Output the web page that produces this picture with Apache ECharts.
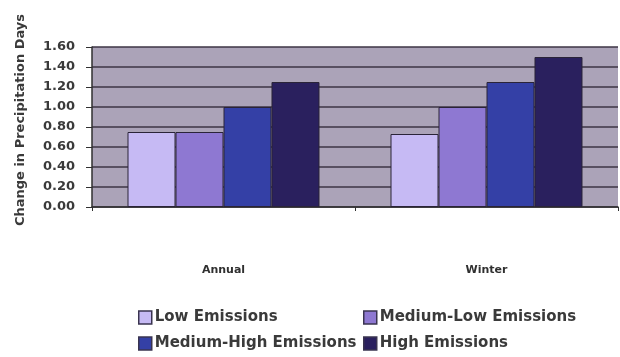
<!DOCTYPE html>
<html>
<head>
<meta charset="utf-8">
<style>
  html, body { margin: 0; padding: 0; background: #ffffff; }
  #chart { width: 620px; height: 357px; }
</style>
<script src="https://cdn.jsdelivr.net/npm/echarts@6/dist/echarts.min.js"></script>
</head>
<body>
<div id="chart"></div>
<script>
// Categories along the x axis
const categories = ['Annual', 'Winter'];

// Emission scenarios and their change in precipitation days
const seriesNames = ['Low Emissions', 'Medium-Low Emissions', 'Medium-High Emissions', 'High Emissions'];
const lowEmissions = [0.75, 0.73];
const mediumLowEmissions = [0.75, 1.00];
const mediumHighEmissions = [1.00, 1.25];
const highEmissions = [1.25, 1.50];

const seriesValues = [lowEmissions, mediumLowEmissions, mediumHighEmissions, highEmissions];
const seriesColors = ['#c6baf4', '#8e78d2', '#3440a6', '#2a205e'];

const fontFamily = 'DejaVu Sans, sans-serif';

const chart = echarts.init(document.getElementById('chart'), null, { renderer: 'canvas' });

// One legend per entry so the four entries sit in a two-column block
const legendSpots = [
  { left: 138, top: 310 },
  { left: 363, top: 310 },
  { left: 138, top: 336 },
  { left: 363, top: 336 }
];
const legends = seriesNames.map((name, i) => ({
  data: [name],
  left: legendSpots[i].left,
  top: legendSpots[i].top,
  padding: 0,
  itemWidth: 13,
  itemHeight: 13,
  itemGap: 4,
  icon: 'rect',
  textStyle: { fontFamily, fontSize: 15, fontWeight: 'bold', color: '#3a3a3a', padding: [0, 0, 0, -2] },
  itemStyle: { borderColor: '#3a3450', borderWidth: 1.5 }
}));

chart.setOption({
  animation: false,
  backgroundColor: '#ffffff',
  legend: legends,
  grid: { left: 92, right: 2, top: 47, bottom: 150, show: true, backgroundColor: '#aba3b8', borderWidth: 0 },
  xAxis: {
    type: 'category',
    data: categories,
    axisLine: { show: true, lineStyle: { color: '#303030', width: 1.5 } },
    axisTick: { show: true, alignWithLabel: false, length: 4, lineStyle: { color: '#303030' } },
    axisLabel: { margin: 58, fontFamily, fontSize: 11, fontWeight: 'bold', color: '#303030' }
  },
  yAxis: {
    type: 'value',
    min: 0,
    max: 1.6,
    interval: 0.2,
    name: 'Change in Precipitation Days',
    nameLocation: 'middle',
    nameGap: 65,
    nameTextStyle: { fontFamily, fontSize: 13, fontWeight: 'bold', color: '#3a3a3a', padding: [0, 0, 0, 14] },
    axisLine: { show: true, lineStyle: { color: '#303030', width: 1.5 } },
    axisTick: { show: true, length: 6, lineStyle: { color: '#303030' } },
    axisLabel: { formatter: v => v.toFixed(2), fontFamily, fontSize: 13, fontWeight: 'bold', color: '#3a3a3a', margin: 17 },
    splitLine: { show: true, lineStyle: { color: '#3c3444', width: 1.5 } }
  },
  series: seriesNames.map((name, i) => ({
    name,
    type: 'bar',
    data: seriesValues[i],
    barGap: '0%',
    barCategoryGap: '27%',
    itemStyle: { color: seriesColors[i], borderColor: '#2a2438', borderWidth: 1 }
  }))
});
</script>
</body>
</html>
